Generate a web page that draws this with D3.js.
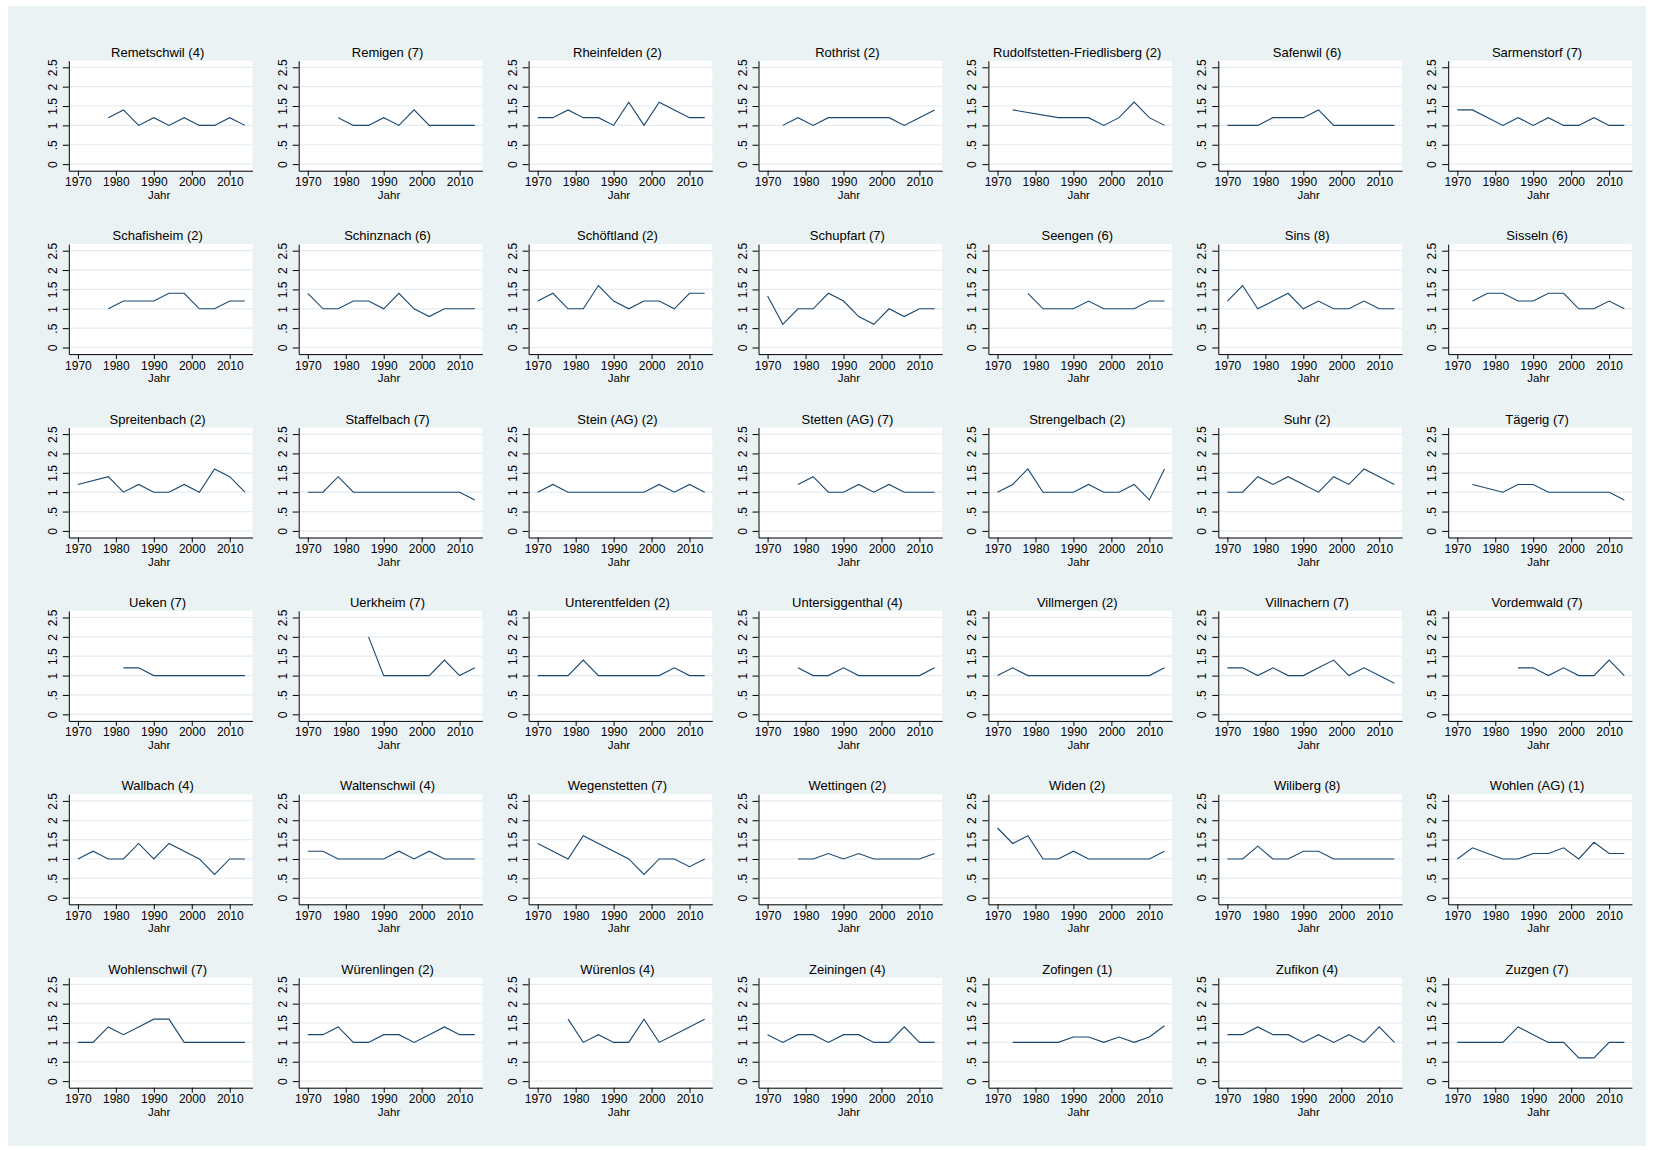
<!DOCTYPE html>
<html>
<head>
<meta charset="utf-8">
<script src="https://cdn.jsdelivr.net/npm/d3@7"></script>
<style>
  html, body { margin: 0; padding: 0; background: #ffffff; }
  svg { display: block; }
  text { font-family: "Liberation Sans", Arial, sans-serif; fill: #000; }
</style>
</head>
<body>
<svg id="chart" width="1654" height="1150"></svg>
<script>
// Election years shown on every panel
const years = [1970, 1974, 1978, 1982, 1986, 1990, 1994, 1998, 2002, 2006, 2010, 2014];
const xTickValues = [1970, 1980, 1990, 2000, 2010];
const yTickValues = [0, 0.5, 1, 1.5, 2, 2.5];
const yTickLabels = ["0", ".5", "1", "1.5", "2", "2.5"];
const xAxisTitle = "Jahr";

// Panel titles, row by row (municipality and group number)
const titles = [
  "Remetschwil (4)", "Remigen (7)", "Rheinfelden (2)", "Rothrist (2)", "Rudolfstetten-Friedlisberg (2)", "Safenwil (6)", "Sarmenstorf (7)",
  "Schafisheim (2)", "Schinznach (6)", "Schöftland (2)", "Schupfart (7)", "Seengen (6)", "Sins (8)", "Sisseln (6)",
  "Spreitenbach (2)", "Staffelbach (7)", "Stein (AG) (2)", "Stetten (AG) (7)", "Strengelbach (2)", "Suhr (2)", "Tägerig (7)",
  "Ueken (7)", "Uerkheim (7)", "Unterentfelden (2)", "Untersiggenthal (4)", "Villmergen (2)", "Villnachern (7)", "Vordemwald (7)",
  "Wallbach (4)", "Waltenschwil (4)", "Wegenstetten (7)", "Wettingen (2)", "Widen (2)", "Wiliberg (8)", "Wohlen (AG) (1)",
  "Wohlenschwil (7)", "Würenlingen (2)", "Würenlos (4)", "Zeiningen (4)", "Zofingen (1)", "Zufikon (4)", "Zuzgen (7)"
];

// Values per panel, one array per row of panels (null = no value that year)
const row1Values = [
  [null, null, 1.2, 1.4, 1.0, 1.2, 1.0, 1.2, 1.0, 1.0, 1.2, 1.0],
  [null, null, 1.2, 1.0, 1.0, 1.2, 1.0, 1.4, 1.0, 1.0, 1.0, 1.0],
  [1.2, 1.2, 1.4, 1.2, 1.2, 1.0, 1.6, 1.0, 1.6, 1.4, 1.2, 1.2],
  [null, 1.0, 1.2, 1.0, 1.2, 1.2, 1.2, 1.2, 1.2, 1.0, 1.2, 1.4],
  [null, 1.4, null, null, 1.2, 1.2, 1.2, 1.0, 1.2, 1.6, 1.2, 1.0],
  [1.0, 1.0, 1.0, 1.2, 1.2, 1.2, 1.4, 1.0, 1.0, 1.0, 1.0, 1.0],
  [1.4, 1.4, null, 1.0, 1.2, 1.0, 1.2, 1.0, 1.0, 1.2, 1.0, 1.0]
];
const row2Values = [
  [null, null, 1.0, 1.2, 1.2, 1.2, 1.4, 1.4, 1.0, 1.0, 1.2, 1.2],
  [1.4, 1.0, 1.0, 1.2, 1.2, 1.0, 1.4, 1.0, 0.8, 1.0, 1.0, 1.0],
  [1.2, 1.4, 1.0, 1.0, 1.6, 1.2, 1.0, 1.2, 1.2, 1.0, 1.4, 1.4],
  [1.33, 0.6, 1.0, 1.0, 1.4, 1.2, 0.8, 0.6, 1.0, 0.8, 1.0, 1.0],
  [null, null, 1.4, 1.0, 1.0, 1.0, 1.2, 1.0, 1.0, 1.0, 1.2, 1.2],
  [1.2, 1.6, 1.0, 1.2, 1.4, 1.0, 1.2, 1.0, 1.0, 1.2, 1.0, 1.0],
  [null, 1.2, 1.4, 1.4, 1.2, 1.2, 1.4, 1.4, 1.0, 1.0, 1.2, 1.0]
];
const row3Values = [
  [1.2, null, 1.4, 1.0, 1.2, 1.0, 1.0, 1.2, 1.0, 1.6, 1.4, 1.0],
  [1.0, 1.0, 1.4, 1.0, 1.0, 1.0, 1.0, 1.0, 1.0, 1.0, 1.0, 0.8],
  [1.0, 1.2, 1.0, 1.0, 1.0, 1.0, 1.0, 1.0, 1.2, 1.0, 1.2, 1.0],
  [null, null, 1.2, 1.4, 1.0, 1.0, 1.2, 1.0, 1.2, 1.0, 1.0, 1.0],
  [1.0, 1.2, 1.6, 1.0, 1.0, 1.0, 1.2, 1.0, 1.0, 1.2, 0.8, 1.6],
  [1.0, 1.0, 1.4, 1.2, 1.4, 1.2, 1.0, 1.4, 1.2, 1.6, 1.4, 1.2],
  [null, 1.2, null, 1.0, 1.2, 1.2, 1.0, 1.0, 1.0, 1.0, 1.0, 0.8]
];
const row4Values = [
  [null, null, null, 1.2, 1.2, 1.0, 1.0, 1.0, 1.0, 1.0, 1.0, 1.0],
  [null, null, null, null, 2.0, 1.0, 1.0, 1.0, 1.0, 1.4, 1.0, 1.2],
  [1.0, 1.0, 1.0, 1.4, 1.0, 1.0, 1.0, 1.0, 1.0, 1.2, 1.0, 1.0],
  [null, null, 1.2, 1.0, 1.0, 1.2, 1.0, 1.0, 1.0, 1.0, 1.0, 1.2],
  [1.0, 1.2, 1.0, 1.0, 1.0, 1.0, 1.0, 1.0, 1.0, 1.0, 1.0, 1.2],
  [1.2, 1.2, 1.0, 1.2, 1.0, 1.0, 1.2, 1.4, 1.0, 1.2, 1.0, 0.8],
  [null, null, null, null, 1.2, 1.2, 1.0, 1.2, 1.0, 1.0, 1.4, 1.0]
];
const row5Values = [
  [1.0, 1.2, 1.0, 1.0, 1.4, 1.0, 1.4, 1.2, 1.0, 0.6, 1.0, 1.0],
  [1.2, 1.2, 1.0, 1.0, 1.0, 1.0, 1.2, 1.0, 1.2, 1.0, 1.0, 1.0],
  [1.4, null, 1.0, 1.6, null, null, 1.0, 0.6, 1.0, 1.0, 0.8, 1.0],
  [null, null, 1.0, 1.0, 1.14, 1.0, 1.14, 1.0, 1.0, 1.0, 1.0, 1.14],
  [1.8, 1.4, 1.6, 1.0, 1.0, 1.2, 1.0, 1.0, 1.0, 1.0, 1.0, 1.2],
  [1.0, 1.0, 1.33, 1.0, 1.0, 1.2, 1.2, 1.0, 1.0, 1.0, 1.0, 1.0],
  [1.0, 1.29, 1.14, 1.0, 1.0, 1.14, 1.14, 1.29, 1.0, 1.43, 1.14, 1.14]
];
const row6Values = [
  [1.0, 1.0, 1.4, 1.2, 1.4, 1.6, 1.6, 1.0, 1.0, 1.0, 1.0, 1.0],
  [1.2, 1.2, 1.4, 1.0, 1.0, 1.2, 1.2, 1.0, 1.2, 1.4, 1.2, 1.2],
  [null, null, 1.6, 1.0, 1.2, 1.0, 1.0, 1.6, 1.0, 1.2, 1.4, 1.6],
  [1.2, 1.0, 1.2, 1.2, 1.0, 1.2, 1.2, 1.0, 1.0, 1.4, 1.0, 1.0],
  [null, 1.0, 1.0, 1.0, 1.0, 1.14, 1.14, 1.0, 1.14, 1.0, 1.14, 1.43],
  [1.2, 1.2, 1.4, 1.2, 1.2, 1.0, 1.2, 1.0, 1.2, 1.0, 1.4, 1.0],
  [1.0, 1.0, 1.0, 1.0, 1.4, 1.2, 1.0, 1.0, 0.6, 0.6, 1.0, 1.0]
];
const rows = [row1Values, row2Values, row3Values, row4Values, row5Values, row6Values];

// Layout of the panel grid
const nCols = 7;
const originX = 68.8, originY = 60.7;
const stepX = 229.9, stepY = 183.4;
const plotW = 183.7, plotH = 110;

const lineColor = "#1a476f";
const gridColor = "#e4ecef";
const fontStack = "'Liberation Sans', Arial, sans-serif";

const svg = d3.select("#chart");

// Graph region background
svg.append("rect")
  .attr("x", 8).attr("y", 6).attr("width", 1638).attr("height", 1140)
  .attr("fill", "#eaf2f3");

const x = d3.scaleLinear().domain([1967.6, 2016]).range([0, plotW]);
const y = d3.scaleLinear().domain([-0.17, 2.67]).range([plotH, 0]);

const line = d3.line()
  .x(d => x(d.year))
  .y(d => y(d.value));

rows.forEach((rowVals, r) => {
  rowVals.forEach((vals, c) => {
    const idx = r * nCols + c;
    const g = svg.append("g")
      .attr("transform", `translate(${originX + c * stepX},${originY + r * stepY})`);

    // White plot region
    g.append("rect")
      .attr("width", plotW).attr("height", plotH)
      .attr("fill", "#ffffff");

    // Horizontal grid lines
    g.selectAll("line.grid")
      .data(yTickValues)
      .join("line")
      .attr("class", "grid")
      .attr("x1", 0).attr("x2", plotW)
      .attr("y1", d => y(d)).attr("y2", d => y(d))
      .attr("stroke", gridColor)
      .attr("stroke-width", 1.2);

    // Series line (connected across missing years)
    const pts = years
      .map((yr, i) => ({ year: yr, value: vals[i] }))
      .filter(d => d.value !== null);
    g.append("path")
      .datum(pts)
      .attr("d", line)
      .attr("fill", "none")
      .attr("stroke", lineColor)
      .attr("stroke-width", 1.1);

    // Y axis with vertical tick labels
    const yAxis = g.append("g")
      .call(d3.axisLeft(y)
        .tickValues(yTickValues)
        .tickFormat((d, i) => yTickLabels[i])
        .tickSize(6)
        .tickSizeOuter(0));
    yAxis.select(".domain").attr("stroke", "#000").attr("stroke-width", 1);
    yAxis.selectAll(".tick line").attr("stroke", "#000");
    yAxis.selectAll(".tick text")
      .attr("x", 0).attr("y", -12).attr("dy", 0)
      .attr("transform", "rotate(-90)")
      .attr("text-anchor", "middle")
      .style("font-size", "12px")
      .style("font-family", fontStack)
      .attr("fill", "#000");

    // X axis
    const xAxis = g.append("g")
      .attr("transform", `translate(0,${plotH})`)
      .call(d3.axisBottom(x)
        .tickValues(xTickValues)
        .tickFormat(d3.format("d"))
        .tickSize(5)
        .tickSizeOuter(0));
    xAxis.select(".domain").attr("stroke", "#000").attr("stroke-width", 1);
    xAxis.selectAll(".tick line").attr("stroke", "#000");
    xAxis.selectAll(".tick text")
      .attr("y", 15.5).attr("dy", 0)
      .style("font-size", "12px")
      .style("font-family", fontStack)
      .attr("fill", "#000");

    // Axis title
    g.append("text")
      .attr("x", plotW / 2 - 1.5)
      .attr("y", plotH + 28)
      .attr("text-anchor", "middle")
      .style("font-size", "11.5px")
      .text(xAxisTitle);

    // Panel title
    g.append("text")
      .attr("x", plotW / 2 - 3)
      .attr("y", -4)
      .attr("text-anchor", "middle")
      .style("font-size", "13px")
      .text(titles[idx]);
  });
});
</script>
</body>
</html>
